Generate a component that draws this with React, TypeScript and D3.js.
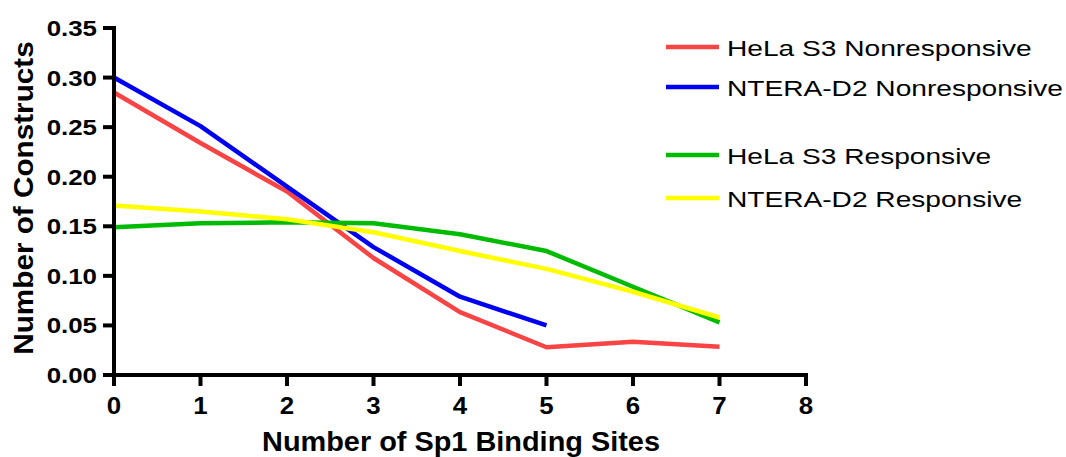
import React from "react";
import * as d3 from "d3";

const sites = [0, 1, 2, 3, 4, 5, 6, 7];
const helaNonresponsive = [0.285, 0.234, 0.185, 0.118, 0.0635, 0.028, 0.0335, 0.0285];
const nteraNonresponsive = [0.3, 0.251, 0.19, 0.129, 0.079, 0.05];
const helaResponsive = [0.149, 0.153, 0.154, 0.153, 0.142, 0.125, 0.089, 0.053];
const nteraResponsive = [0.171, 0.165, 0.157, 0.144, 0.125, 0.107, 0.084, 0.058];
const xTicks = [0, 1, 2, 3, 4, 5, 6, 7, 8];
const yTicks = [0, 0.05, 0.1, 0.15, 0.2, 0.25, 0.3, 0.35];

const series = [
  { name: "HeLa S3 Nonresponsive", color: "#f84444", values: helaNonresponsive },
  { name: "NTERA-D2 Nonresponsive", color: "#0000f0", values: nteraNonresponsive },
  { name: "HeLa S3 Responsive", color: "#00bb00", values: helaResponsive },
  { name: "NTERA-D2 Responsive", color: "#ffff00", values: nteraResponsive },
];
const legendY = [47, 87, 155, 198];

const font = "Arial, 'Liberation Sans', Helvetica, sans-serif";

function SText(props: {
  x: number;
  y: number;
  sx: number;
  size: number;
  bold?: boolean;
  anchor?: string;
  children: React.ReactNode;
}) {
  const { x, y, sx, size, bold, anchor, children } = props;
  return (
    <text
      transform={`translate(${x},${y}) scale(${sx},1)`}
      textAnchor={anchor || "start"}
      fontFamily={font}
      fontWeight={bold ? "bold" : "normal"}
      fontSize={size}
      fill="black"
    >
      {children}
    </text>
  );
}

export default function App() {
  const W = 1066, H = 457;
  const x = d3.scaleLinear().domain([0, 8]).range([114, 806]);
  const y = d3.scaleLinear().domain([0, 0.35]).range([375, 28]);
  const line = d3
    .line<number>()
    .x((_, i) => x(sites[i]))
    .y((d) => y(d));
  return (
    <svg width={W} height={H} style={{ position: "absolute", left: 0, top: 0 }}>
      <rect width={W} height={H} fill="white" />
      {series.map((s) => (
        <path key={s.name} d={line(s.values) || ""} fill="none" stroke={s.color} strokeWidth={4.5} strokeLinejoin="round" />
      ))}
      <line x1={x(0)} x2={x(0)} y1={y(0.35) - 2} y2={y(0) + 2} stroke="black" strokeWidth={4} />
      <line x1={x(0) - 2} x2={x(8) + 2} y1={y(0)} y2={y(0)} stroke="black" strokeWidth={4} />
      {yTicks.map((t) => (
        <g key={t}>
          <line x1={x(0) - 11} x2={x(0)} y1={y(t)} y2={y(t)} stroke="black" strokeWidth={4} />
          <SText x={97} y={y(t) + 8} sx={1.15} size={22.5} bold anchor="end">
            {t.toFixed(2)}
          </SText>
        </g>
      ))}
      {xTicks.map((t) => (
        <g key={t}>
          <line x1={x(t)} x2={x(t)} y1={y(0)} y2={y(0) + 11} stroke="black" strokeWidth={4} />
          <SText x={x(t)} y={414} sx={1.1} size={23.5} bold anchor="middle">
            {t}
          </SText>
        </g>
      ))}
      <SText x={461} y={451} sx={1.07} size={27} bold anchor="middle">
        Number of Sp1 Binding Sites
      </SText>
      <text
        transform={`translate(33,198) rotate(-90) scale(1.1,1.03)`}
        textAnchor="middle"
        fontFamily={font}
        fontWeight="bold"
        fontSize={27}
      >
        Number of Constructs
      </text>
      {series.map((s, i) => (
        <g key={s.name}>
          <line x1={666} x2={719} y1={legendY[i]} y2={legendY[i]} stroke={s.color} strokeWidth={4.5} />
          <SText x={727} y={legendY[i] + 9} sx={1.25} size={22.5}>
            {s.name}
          </SText>
        </g>
      ))}
    </svg>
  );
}
